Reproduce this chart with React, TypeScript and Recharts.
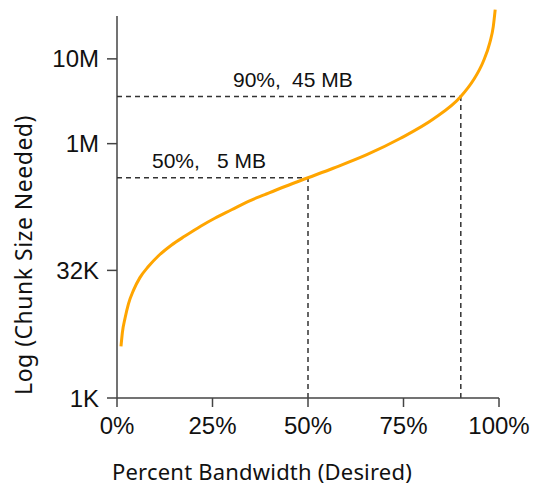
import { LineChart, Line, XAxis, YAxis, ReferenceLine, Label } from "recharts";

// percent of bandwidth desired (x) vs chunk size needed in bytes (y, log scale)
const pctBandwidth = [
  1.05, 1.4, 2.1, 3.0, 4.3, 6.0, 8.2, 10.8, 14.3, 17.8, 22, 25.6, 30, 34.4, 38.7, 43.1,
  50, 56.6, 65.4, 74.1, 82.8, 90, 93.3, 95.8, 97.6, 98.5, 99,
];
const chunkBytes = [
  4070, 5890, 8710, 12900, 18600, 26300, 35500, 47300, 63800, 81300, 107000, 132000, 166000,
  209000, 251000, 302000, 396000, 513000, 741000, 1150000, 1950000, 3590000, 5620000, 9120000,
  15500000, 24000000, 38000000,
];

const xTicks = [0, 25, 50, 75, 100];
const yTicks = [1000, 32000, 1000000, 10000000];
const yTickLabels = ["1K", "32K", "1M", "10M"];

const markPct = [50, 90];
const markSize = [396000, 3590000];
const markPctText = ["50%,", "90%,"];
const markSizeText = ["5 MB", "45 MB"];
const markTextDx = [[35, 100], [116, 175]];

const data = pctBandwidth.map((p, i) => ({ pct: p, size: chunkBytes[i] }));

const tickFont = { fontFamily: "'Liberation Sans', Arial, sans-serif", fontSize: 24, fill: "#111" };
const titleFont = "'Noto Sans', 'DejaVu Sans', sans-serif";
const axisColor = "#444";
const dashColor = "#333";

export default function App() {
  return (
    <div>
      <style>{"body{margin:0;overflow:hidden}"}</style>
      <LineChart width={535} height={489} data={data} margin={{ top: 8, right: 36, left: 0, bottom: 31 }}>
        <XAxis
          dataKey="pct"
          type="number"
          domain={[0, 100]}
          ticks={xTicks}
          tickFormatter={(v) => v + "%"}
          tick={tickFont}
          tickSize={9}
          tickMargin={10}
          height={60}
          stroke={axisColor}
          strokeWidth={1.5}
        >
          <Label
            content={({ viewBox }: any) => (
              <text
                x={viewBox.x + viewBox.width / 2 - 46}
                y={viewBox.y + 82}
                textAnchor="middle"
                fontFamily={titleFont}
                fontSize={22}
                letterSpacing={0.2}
                fill="#111"
              >
                Percent Bandwidth (Desired)
              </text>
            )}
          />
        </XAxis>
        <YAxis
          dataKey="size"
          type="number"
          scale="log"
          domain={[1000, 39810717]}
          ticks={yTicks}
          tickFormatter={(v) => yTickLabels[yTicks.indexOf(v)]}
          tick={tickFont}
          tickSize={10}
          tickMargin={8}
          width={117}
          axisLine={false}
          stroke={axisColor}
          strokeWidth={1.5}
        >
          <Label
            content={({ viewBox }: any) => {
              const cx = viewBox.x + 32;
              const cy = viewBox.y + viewBox.height / 2 + 52;
              return (
                <text
                  x={cx}
                  y={cy}
                  transform={`rotate(-90, ${cx}, ${cy})`}
                  textAnchor="middle"
                  fontFamily={titleFont}
                  fontSize={23}
                  letterSpacing={0.5}
                  fill="#111"
                >
                  Log (Chunk Size Needed)
                </text>
              );
            }}
          />
        </YAxis>
        <ReferenceLine
          segment={[{ x: 0, y: 1000 }, { x: 0, y: 32000000 }]}
          stroke={axisColor}
          strokeWidth={1.5}
          ifOverflow="visible"
        />
        {markPct.map((p, i) => (
          <ReferenceLine
            key={"h" + i}
            segment={[{ x: 0, y: markSize[i] }, { x: p, y: markSize[i] }]}
            stroke={dashColor}
            strokeWidth={1.5}
            strokeDasharray="5 4"
            ifOverflow="visible"
            label={(props: any) => (
              <text
                x={props.viewBox.x}
                y={props.viewBox.y - 10}
                fontFamily="'Liberation Sans', Arial, sans-serif"
                fontSize={21}
                fill="#111"
              >
                <tspan x={props.viewBox.x + markTextDx[i][0]}>{markPctText[i]}</tspan>
                <tspan x={props.viewBox.x + markTextDx[i][1]}>{markSizeText[i]}</tspan>
              </text>
            )}
          />
        ))}
        {markPct.map((p, i) => (
          <ReferenceLine
            key={"v" + i}
            segment={[{ x: p, y: 1000 }, { x: p, y: markSize[i] }]}
            stroke={dashColor}
            strokeWidth={1.5}
            strokeDasharray="5 4"
            ifOverflow="visible"
          />
        ))}
        <Line
          type="monotone"
          dataKey="size"
          stroke="#FFA500"
          strokeWidth={3}
          dot={false}
          isAnimationActive={false}
        />
      </LineChart>
    </div>
  );
}
